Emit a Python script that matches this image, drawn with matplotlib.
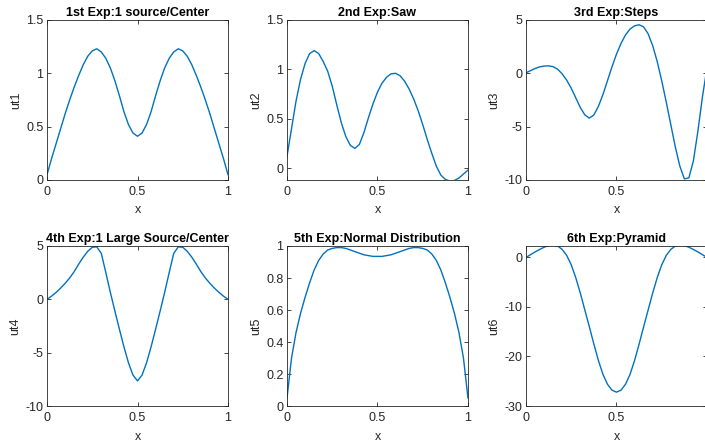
import numpy as np
import matplotlib as mpl
mpl.use('Agg')
import matplotlib.pyplot as plt

plt.rcParams['font.family'] = ['Liberation Sans', 'DejaVu Sans']

# sample positions along x (step 0.025)
x = np.linspace(0, 1, 41)

# half curves (x = 0 .. 0.5) for the symmetric cases
ut1_half = [0.05, 0.20, 0.34, 0.48, 0.62, 0.75, 0.87, 0.98, 1.08, 1.16, 1.21,
            1.23, 1.20, 1.14, 1.05, 0.93, 0.79, 0.64, 0.52, 0.44, 0.41]
ut4_half = [0.0, 0.3, 0.65, 1.05, 1.5, 2.0, 2.6, 3.3, 3.95, 4.5, 4.88,
            4.92, 4.3, 2.5, 0.65, -1.1, -2.8, -4.45, -5.95, -7.1, -7.65]
ut5_half = [0.05, 0.30, 0.46, 0.58, 0.68, 0.77, 0.85, 0.91, 0.95, 0.975, 0.985,
            0.99, 0.99, 0.985, 0.975, 0.965, 0.955, 0.945, 0.94, 0.935, 0.935]
ut6_half = [0.0, 0.55, 1.1, 1.6, 2.05, 2.4, 2.5, 2.3, 1.6, 0.4, -1.5,
            -4.1, -7.2, -10.6, -14.0, -17.5, -20.8, -23.6, -25.6, -26.8, -27.2]

ut2 = [0.12, 0.40, 0.68, 0.90, 1.06, 1.16, 1.19, 1.16, 1.08, 0.98, 0.83,
       0.64, 0.46, 0.32, 0.23, 0.20, 0.24, 0.36, 0.51, 0.65, 0.77,
       0.86, 0.92, 0.955, 0.96, 0.935, 0.88, 0.80, 0.70, 0.58, 0.44,
       0.29, 0.15, 0.02, -0.07, -0.115, -0.13, -0.125, -0.10, -0.06, -0.02]
ut3 = [0.05, 0.25, 0.45, 0.60, 0.68, 0.70, 0.62, 0.38, -0.05, -0.65, -1.4,
       -2.3, -3.2, -3.9, -4.2, -3.9, -3.1, -2.0, -0.7, 0.6, 1.8,
       2.8, 3.6, 4.15, 4.45, 4.55, 4.35, 3.7, 2.6, 1.1, -0.7,
       -2.7, -4.8, -6.9, -8.7, -9.9, -9.8, -8.2, -5.4, -2.2, 0.5]


def mirror(half):
    return list(half) + list(half[-2::-1])


ut1 = mirror(ut1_half)
ut4 = mirror(ut4_half)
ut5 = mirror(ut5_half)
ut6 = mirror(ut6_half)

series = [ut1, ut2, ut3, ut4, ut5, ut6]
titles = ['1st Exp:1 source/Center', '2nd Exp:Saw', '3rd Exp:Steps',
          '4th Exp:1 Large Source/Center', '5th Exp:Normal Distribution',
          '6th Exp:Pyramid']
ylabels = ['ut1', 'ut2', 'ut3', 'ut4', 'ut5', 'ut6']
ylims = [(0, 1.5), (-0.12, 1.5), (-10, 5), (-10, 5), (0, 1), (-30, 2.3)]
yticks = [[0, 0.5, 1, 1.5], [0, 0.5, 1, 1.5], [-10, -5, 0, 5],
          [-10, -5, 0, 5], [0, 0.2, 0.4, 0.6, 0.8, 1], [-30, -20, -10, 0]]

fig = plt.figure(figsize=(7.05, 4.43), dpi=100)
lefts = [0.0667, 0.4071, 0.7461]
bottoms = [0.5937, 0.0835]
W, H = 0.2567, 0.3612
grey = '#262626'

for i in range(6):
    r, c = divmod(i, 3)
    ax = fig.add_axes([lefts[c], bottoms[r], W, H])
    ax.plot(x, series[i], color='#0072BD', lw=1.0)
    ax.set_xlim(0, 1)
    ax.set_ylim(*ylims[i])
    ax.set_xticks([0, 0.5, 1])
    # right column runs off the figure edge, its "1" label is not visible
    if c == 2:
        ax.set_xticklabels(['0', '0.5', ''])
    else:
        ax.set_xticklabels(['0', '0.5', '1'])
    ax.set_yticks(yticks[i])
    ax.set_yticklabels(['%g' % v for v in yticks[i]])
    ax.tick_params(direction='in', length=3, width=0.6, colors=grey,
                   labelsize=9, top=True, right=True)
    ax.tick_params(axis='x', pad=4)
    ax.tick_params(axis='y', pad=2.5)
    for s in ax.spines.values():
        s.set_color(grey)
        s.set_linewidth(0.6)
    ax.set_xlabel('x', fontsize=9, color=grey, labelpad=5)
    ax.set_ylabel(ylabels[i], fontsize=9, color=grey, labelpad=3)
    ax.set_title(titles[i], fontsize=9, fontweight='bold', color='black', pad=3)

fig.savefig('out.png', dpi=100)
